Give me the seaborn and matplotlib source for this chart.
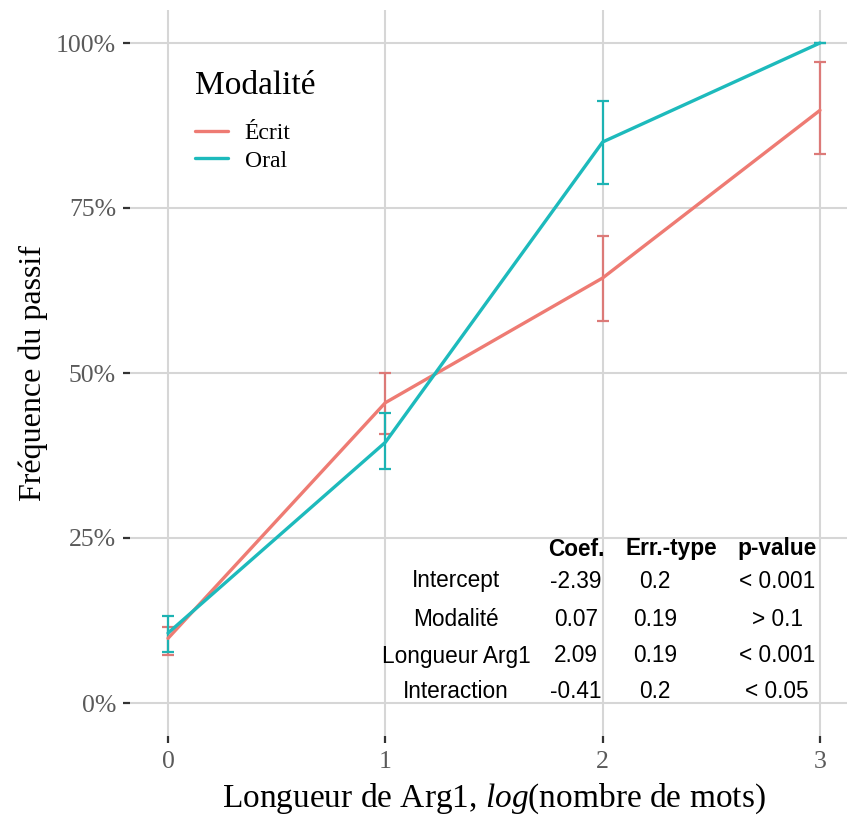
import matplotlib
matplotlib.use("Agg")
import matplotlib.pyplot as plt
import seaborn as sns
import pandas as pd
import numpy as np

# Passive frequency by Arg1 length (log word count), per modality
longueur = [0, 1, 2, 3]
modalites = ["Écrit", "Oral"]
freq_ecrit = [0.098, 0.455, 0.644, 0.898]
low_ecrit = [0.073, 0.408, 0.579, 0.832]
high_ecrit = [0.115, 0.500, 0.708, 0.971]
freq_oral = [0.106, 0.395, 0.850, 1.000]
low_oral = [0.077, 0.355, 0.786, 1.000]
high_oral = [0.132, 0.439, 0.912, 1.000]

y_ticks = [0, 0.25, 0.5, 0.75, 1.0]
y_ticklabels = ["0%", "25%", "50%", "75%", "100%"]

# Logistic regression summary table
table_header = ["Coef.", "Err.-type", "p-value"]
table_rows = ["Intercept", "Modalité", "Longueur Arg1", "Interaction"]
table_coef = ["-2.39", "0.07", "2.09", "-0.41"]
table_se = ["0.2", "0.19", "0.19", "0.2"]
table_p = ["< 0.001", "> 0.1", "< 0.001", "< 0.05"]

colors = {"Écrit": "#EE7B73", "Oral": "#1DBABC"}
err_colors = {"Écrit": "#DC7A78", "Oral": "#1DB3B3"}

df = pd.DataFrame({
    "longueur": longueur * 2,
    "freq": freq_ecrit + freq_oral,
    "low": low_ecrit + low_oral,
    "high": high_ecrit + high_oral,
    "Modalité": ["Écrit"] * 4 + ["Oral"] * 4,
})

sns.set_theme(style="white")
serif = ["Liberation Serif", "DejaVu Serif"]
sans = ["Liberation Sans", "DejaVu Sans"]
plt.rcParams["font.family"] = serif
plt.rcParams["mathtext.fontset"] = "custom"
plt.rcParams["mathtext.rm"] = "Liberation Serif"
plt.rcParams["mathtext.it"] = "Liberation Serif:italic"
plt.rcParams["text.color"] = "black"

W, H = 847, 816
fig = plt.figure(figsize=(W / 100, H / 100), dpi=100)
ax = fig.add_axes([130 / W, (H - 736) / H, 728 / W, 726 / H])

# error bars under the lines
for m in modalites:
    sub = df[df["Modalité"] == m]
    yerr = np.vstack([sub["freq"] - sub["low"], sub["high"] - sub["freq"]])
    ax.errorbar(sub["longueur"], sub["freq"], yerr=yerr, fmt="none",
                ecolor=err_colors[m], elinewidth=1.6, capsize=4.5,
                capthick=1.6, zorder=2)

sns.lineplot(data=df, x="longueur", y="freq", hue="Modalité",
             hue_order=modalites, palette=colors, linewidth=2.4,
             ax=ax, zorder=3)

ax.set_xlim(-0.175, 3.175)
ax.set_ylim(-0.05, 1.05)
ax.set_xticks(longueur)
ax.set_xticklabels([str(v) for v in longueur])
ax.set_yticks(y_ticks)
ax.set_yticklabels(y_ticklabels)

ax.grid(True, color="#D6D6D6", linewidth=1.5)
ax.set_axisbelow(True)
for s in ax.spines.values():
    s.set_visible(False)
ax.tick_params(axis="both", which="major", length=5, width=1.6,
               color="#333333", labelsize=18.5, labelcolor="#5A5A5A",
               direction="out", pad=5)
ax.tick_params(axis="x", bottom=True, pad=6)
ax.tick_params(axis="y", left=True)

ax.set_xlabel("Longueur de Arg1, $\\mathit{log}$(nombre de mots)",
              fontsize=24, color="black", labelpad=6)
ax.set_ylabel("Fréquence du passif", fontsize=23, color="black", labelpad=6)

leg = ax.legend(title="Modalité", loc="upper left",
                bbox_to_anchor=((195 - 130) / 728, 1 - (70 - 10) / 726),
                frameon=False, fontsize=17, title_fontsize=24,
                handlelength=1.4, handletextpad=0.7, labelspacing=0.25,
                borderaxespad=0, borderpad=0)
leg._legend_box.align = "left"
leg._legend_box.sep = 16
leg.get_title().set_color("black")
for t in leg.get_texts():
    t.set_color("black")
for line in leg.get_lines():
    line.set_linewidth(2.4)

# regression table
def fx(px):
    return px / W

def fy(py):
    return 1 - py / H

col_x = [576, 671, 777]
header_y = 549
row_y = [581, 619, 656, 692]
tsize = 16.3
for cx, h in zip(col_x, table_header):
    fig.text(fx(cx), fy(header_y), h, ha="center", va="center",
             fontsize=tsize, fontweight="bold", family=sans, color="black")
for i, ry in enumerate(row_y):
    fig.text(fx(456), fy(ry), table_rows[i], ha="center", va="center",
             fontsize=tsize, family=sans, color="black")
    fig.text(fx(col_x[0]), fy(ry), table_coef[i], ha="center", va="center",
             fontsize=tsize, family=sans, color="black")
    fig.text(fx(655), fy(ry), table_se[i], ha="center", va="center",
             fontsize=tsize, family=sans, color="black")
    fig.text(fx(col_x[2]), fy(ry), table_p[i], ha="center", va="center",
             fontsize=tsize, family=sans, color="black")

fig.savefig("out.png", dpi=100)
